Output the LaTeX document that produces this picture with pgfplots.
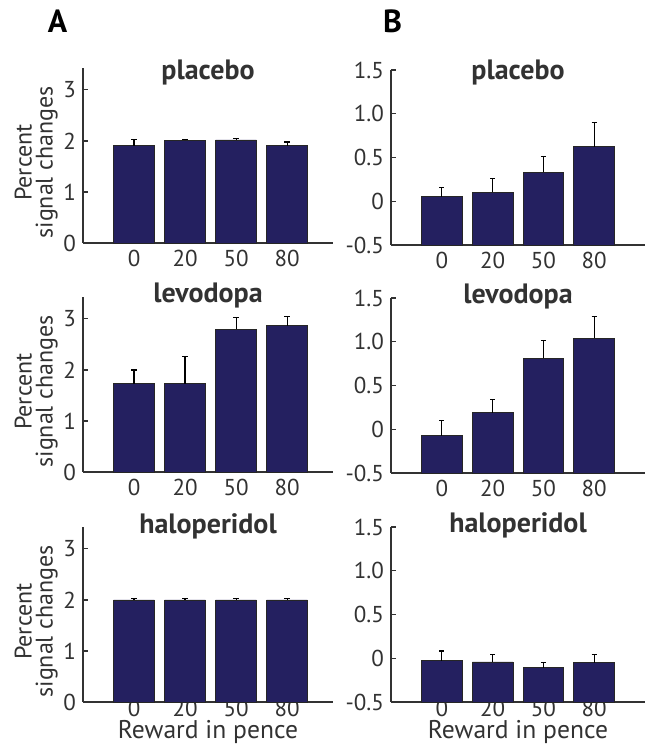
\documentclass[border=0pt]{standalone}
\usepackage{fontspec}
\setmainfont{PT Sans}
\usepackage{pgfplots}
\usepackage{pgfplotstable}
\pgfplotsset{compat=1.18}
\definecolor{barblue}{RGB}{36,32,96}
\definecolor{axgray}{RGB}{50,50,50}

% Column A
\pgfplotstableread{
x y e
1 1.91 0.11
2 2.01 0.02
3 2.02 0.03
4 1.91 0.07
}\Aplacebo
\pgfplotstableread{
x y e
1 1.73 0.27
2 1.73 0.53
3 2.80 0.23
4 2.87 0.18
}\Alevodopa
\pgfplotstableread{
x y e
1 2.00 0.02
2 2.00 0.02
3 2.00 0.02
4 2.00 0.02
}\Ahalo
% Column B
\pgfplotstableread{
x y e
1 0.05 0.11
2 0.10 0.155
3 0.33 0.18
4 0.625 0.275
}\Bplacebo
\pgfplotstableread{
x y e
1 -0.076 0.18
2 0.19 0.155
3 0.81 0.20
4 1.04 0.25
}\Blevodopa
\pgfplotstableread{
x y e
1 -0.027 0.11
2 -0.042 0.084
3 -0.107 0.06
4 -0.05 0.092
}\Bhalo

\pgfplotsset{
  every axis title shift=0pt,
  panel/.style={
    scale only axis, height=87.5pt,
    anchor=south west,
    axis lines=left,
    axis line style={-, line width=0.55pt, axgray},
    tick align=inside,
    major tick length=2.5pt,
    ytick style={line width=0.55pt, axgray},
    xtick style={draw=none},
    xtick={1,2,3,4}, xticklabels={0,20,50,80},
    /pgf/number format/assume math mode=true,
    tick label style={font=\fontsize{11.5}{13}\selectfont, text=axgray},
    title style={at={(0.5,1)}, anchor=base, font=\bfseries\fontsize{14}{16}\selectfont, text=axgray},
    clip=false,
  },
  colA/.style={panel, width=125pt, xmin=0, xmax=4.9, ymin=0, ymax=3.43,
    ytick={0,1,2,3}, yticklabels={0,1,2,3},
    ylabel={Percent\\signal changes},
    ylabel style={at={(axis description cs:-0.1,0.46)}, anchor=south, align=center,
      font=\fontsize{12}{10.5}\selectfont, text=axgray, inner sep=0pt},
  },
  colB/.style={panel, width=127pt, xmin=0, xmax=5, ymin=0, ymax=2,
    y filter/.expression={y+0.5},
    ytick={0,0.5,1,1.5,2}, yticklabels={-0.5,0,0.5,1.0,1.5},
  },
  xlab/.style={xlabel={Reward in pence},
    xticklabel style={yshift=4.5pt},
    xlabel style={at={(axis description cs:0.5,0)}, anchor=north, yshift=-9pt, inner sep=0pt,
      font=\fontsize{12.8}{14}\selectfont, text=axgray}},
  bars/.style={ybar, bar width=0.8, fill=barblue, draw=black!85, line width=0.4pt,
    error bars/.cd, y dir=plus, y explicit,
    error bar style={black, line width=0.55pt},
    error mark options={black, rotate=90, mark size=1.3pt, line width=0.55pt}},
}

\begin{document}
\begin{tikzpicture}
\useasboundingbox (0,0) rectangle (322.5pt,374.5pt);

\begin{axis}[colA, at={(41.5pt,253pt)}, title={placebo}, title style={yshift=-6pt}]
\addplot[bars] table[x=x, y=y, y error=e] {\Aplacebo};
\end{axis}
\begin{axis}[colA, at={(41.5pt,138.5pt)}, title={levodopa}, title style={yshift=-2.7pt}]
\addplot[bars] table[x=x, y=y, y error=e] {\Alevodopa};
\end{axis}
\begin{axis}[colA, xlab, at={(41.5pt,23.5pt)}, title={haloperidol}, title style={yshift=-3pt}]
\addplot[bars] table[x=x, y=y, y error=e] {\Ahalo};
\end{axis}

\begin{axis}[colB, at={(195.5pt,252pt)}, title={placebo}, title style={yshift=-5pt}]
\addplot[bars] table[x=x, y=y, y error=e] {\Bplacebo};
\end{axis}
\begin{axis}[colB, at={(195.5pt,138pt)}, title={levodopa}, title style={yshift=-2.7pt}]
\addplot[bars] table[x=x, y=y, y error=e] {\Blevodopa};
\end{axis}
\begin{axis}[colB, xlab, at={(195.5pt,23.5pt)}, title={haloperidol}, title style={yshift=-2.7pt}]
\addplot[bars] table[x=x, y=y, y error=e] {\Bhalo};
\end{axis}

\node[anchor=base, font=\bfseries\fontsize{16}{18}\selectfont] at (28.75pt,358pt) {A};
\node[anchor=base, font=\bfseries\fontsize{16}{18}\selectfont] at (196.25pt,358pt) {B};
\end{tikzpicture}
\end{document}
